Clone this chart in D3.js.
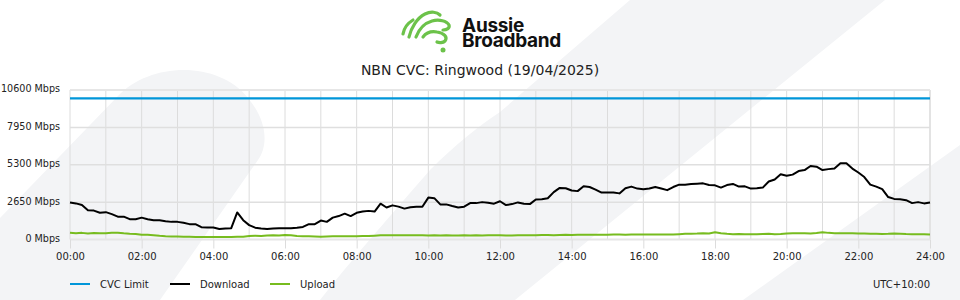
<!DOCTYPE html>
<html>
<head>
<meta charset="utf-8">
<script src="https://cdn.jsdelivr.net/npm/d3@7"></script>
<style>
    html, body {margin: 0; padding: 0; background: #fff;}
    svg {display: block; font-family: "DejaVu Sans", sans-serif;}
</style>
</head>
<body>
<svg id="chart" width="960" height="300"></svg>
<script>
// values, one every 10 minutes from 00:00 to 24:00
let downloadMbps = [
    2630, 2560, 2440, 2080, 2050, 1900, 1940, 1800, 1620, 1620,
    1440, 1440, 1550, 1440, 1370, 1370, 1300, 1250, 1250, 1190,
    1090, 1090, 870, 850, 850, 750, 780, 800, 1920, 1370,
    1020, 840, 780, 750, 780, 800, 800, 800, 840, 890,
    1090, 1090, 1340, 1250, 1550, 1660, 1830, 1660, 1890, 1980,
    2030, 1980, 2540, 2270, 2420, 2330, 2190, 2290, 2320, 2320,
    2970, 2930, 2490, 2490, 2370, 2270, 2330, 2580, 2580, 2650,
    2610, 2540, 2710, 2440, 2510, 2630, 2540, 2510, 2840, 2860,
    2930, 3360, 3660, 3630, 3470, 3430, 3770, 3720, 3540, 3330,
    3330, 3340, 3270, 3640, 3750, 3610, 3570, 3610, 3720, 3610,
    3500, 3720, 3890, 3890, 3930, 3960, 3980, 3860, 3840, 3680,
    3860, 3940, 3750, 3770, 3610, 3640, 3680, 4110, 4250, 4620,
    4520, 4600, 4850, 4920, 5210, 5160, 4920, 4990, 5030, 5400,
    5400, 5030, 4750, 4430, 3890, 3750, 3570, 3010, 2880, 2850,
    2790, 2580, 2650, 2560, 2630
]
let uploadMbps = [
    470, 440, 470, 430, 460, 450, 450, 480, 480, 440,
    410, 390, 330, 330, 300, 260, 230, 210, 210, 200,
    190, 180, 170, 170, 170, 170, 170, 170, 200, 190,
    240, 270, 250, 290, 300, 280, 320, 300, 250, 230,
    230, 210, 190, 220, 230, 230, 230, 230, 230, 240,
    240, 270, 300, 300, 300, 300, 300, 310, 300, 300,
    290, 300, 290, 300, 290, 280, 300, 290, 300, 290,
    300, 300, 310, 280, 290, 300, 300, 300, 310, 320,
    320, 310, 320, 330, 320, 330, 330, 340, 330, 330,
    340, 350, 350, 340, 350, 360, 350, 350, 360, 350,
    360, 360, 380, 400, 410, 420, 440, 430, 520, 440,
    400, 380, 390, 380, 370, 380, 390, 400, 380, 390,
    430, 440, 450, 440, 430, 460, 520, 470, 450, 440,
    450, 440, 430, 420, 410, 400, 390, 400, 420, 410,
    390, 380, 370, 380, 360
]
let cvcLimitMbps = 10000
let yTicks = [0, 2650, 5300, 7950, 10600]
let xTickLabels = ['00:00', '02:00', '04:00', '06:00', '08:00', '10:00', '12:00',
    '14:00', '16:00', '18:00', '20:00', '22:00', '24:00']
let seriesNames = ['CVC Limit', 'Download', 'Upload']
let seriesColors = ['#0096d9', '#000000', '#77bc1f']

let svg = d3.select('#chart')
let margin = {top: 90, right: 30, bottom: 60, left: 70}
let width = +svg.attr('width')
let height = +svg.attr('height')

// background swooshes
let bg = svg.append('g')
bg.append('rect').attr('width', width).attr('height', height).attr('fill', '#fff')
bg.append('path')
    .attr('d', 'M0,218 L118,96 C150,62 218,60 248,98 C268,122 268,146 258,160 L160,300 L0,300 Z')
    .attr('fill', '#f3f4f6')
bg.append('path')
    .attr('d', 'M320,300 C345,268 365,245 430,170 C455,145 480,125 500,112 L630,0 L885,0 L515,300 Z')
    .attr('fill', '#f3f4f6')
bg.append('path')
    .attr('d', 'M743,300 L960,145 L960,300 Z')
    .attr('fill', '#f3f4f6')

// logo
let logo = svg.append('g')
    .attr('fill', 'none')
    .attr('stroke', '#6cc24a')
    .attr('stroke-width', 3.2)
    .attr('stroke-linecap', 'round')
logo.append('path').attr('d', 'M403,34 C404,28 408,23 413,20')
logo.append('path').attr('d', 'M409,37 C411,28 417,18 425,14 C431,11 437,12 440,15')
logo.append('path').attr('d', 'M416,37 C419,29 425,23 432,21 C439,19 447,21 449,25 C450,28 447,30 443,30')
logo.append('path').attr('d', 'M423,37 C426,33 431,31 437,32 C444,33 448,37 445,41 C443,43 439,43 437,42')
svg.append('circle').attr('cx', 443).attr('cy', 50).attr('r', 2.5).attr('fill', '#6cc24a')
let brand = svg.append('text')
    .style('font-family', 'Inter, sans-serif').style('font-weight', 700)
    .style('font-size', '19px').style('letter-spacing', '-0.3px')
    .attr('fill', '#111')
brand.append('tspan').attr('x', 462).attr('y', 32).text('Aussie')
brand.append('tspan').attr('x', 462).attr('y', 47).text('Broadband')

// title
svg.append('text')
    .attr('x', 480).attr('y', 75)
    .attr('text-anchor', 'middle')
    .style('font-size', '14px')
    .attr('fill', '#222')
    .text('NBN CVC: Ringwood (19/04/2025)')

let x = d3.scaleLinear()
    .domain([0, 1440])
    .range([margin.left, width - margin.right])
let y = d3.scaleLinear()
    .domain([0, 10600])
    .range([239.5, margin.top])

// hourly grid
svg.append('g')
    .selectAll('line')
    .data(d3.range(0, 1441, 60))
    .enter()
    .append('line')
    .attr('x1', d => x(d)).attr('x2', d => x(d))
    .attr('y1', y(10600)).attr('y2', y(0))
    .attr('stroke', d => d == 1440 ? '#e3e3e3' : '#dcdcdc')
    .attr('stroke-width', d => d == 1440 ? 2 : 1)

svg.append('g')
    .selectAll('line')
    .data(yTicks)
    .enter()
    .append('line')
    .attr('x1', x(0)).attr('x2', x(1440))
    .attr('y1', d => y(d)).attr('y2', d => y(d))
    .attr('stroke', d => (d == 0 || d == 10600) ? '#e6e6e6' : '#dfdfdf')
    .attr('stroke-width', d => (d == 0 || d == 10600) ? 2 : 1.5)

// X axis (labels every 2 hours)
let xAxis = svg.append('g')
    .attr('transform', 'translate(0,' + y(0) + ')')
    .call(d3.axisBottom(x)
        .tickValues(d3.range(0, 1441, 120))
        .tickSize(9)
        .tickPadding(4)
        .tickFormat((d, i) => xTickLabels[i]))
xAxis.select('.domain').remove()
xAxis.selectAll('line').attr('stroke', '#dcdcdc')
xAxis.selectAll('text').style('font-size', '10px').style('font-family', '"DejaVu Sans", sans-serif').attr('fill', '#222')

// Y axis
let yAxis = svg.append('g')
    .attr('transform', 'translate(' + margin.left + ',0)')
    .call(d3.axisLeft(y)
        .tickValues(yTicks)
        .tickSize(0)
        .tickPadding(10)
        .tickFormat(d => d + ' Mbps'))
yAxis.select('.domain').remove()
yAxis.selectAll('text').style('font-size', '9.6px').style('font-family', '"DejaVu Sans", sans-serif')
    .attr('fill', '#222').attr('dy', '0.2em')

// series
let line = d3.line()
    .x((d, i) => x(i * 10))
    .y(d => y(d))

svg.append('path')
    .datum([cvcLimitMbps, cvcLimitMbps])
    .attr('d', d3.line().x((d, i) => x(i * 1440)).y(d => y(d)))
    .attr('fill', 'none')
    .attr('stroke', seriesColors[0])
    .attr('stroke-width', 2.2)

svg.append('path')
    .datum(uploadMbps)
    .attr('d', line)
    .attr('fill', 'none')
    .attr('stroke', seriesColors[2])
    .attr('stroke-width', 2)
    .attr('stroke-linejoin', 'round')

svg.append('path')
    .datum(downloadMbps)
    .attr('d', line)
    .attr('fill', 'none')
    .attr('stroke', seriesColors[1])
    .attr('stroke-width', 2)
    .attr('stroke-linejoin', 'round')

// legend
let legend = svg.append('g')
    .selectAll('g')
    .data(seriesNames)
    .enter()
    .append('g')
    .attr('transform', (d, i) => 'translate(' + (70 + i * 100) + ',284)')
legend.append('line')
    .attr('x1', 0).attr('x2', 20)
    .attr('stroke', (d, i) => seriesColors[i])
    .attr('stroke-width', 2)
legend.append('text')
    .attr('x', 30).attr('y', 4)
    .style('font-size', '10px')
    .attr('fill', '#222')
    .text(d => d)

svg.append('text')
    .attr('x', x(1440)).attr('y', 288)
    .attr('text-anchor', 'end')
    .style('font-size', '10px')
    .attr('fill', '#222')
    .text('UTC+10:00')
</script>
</body>
</html>
